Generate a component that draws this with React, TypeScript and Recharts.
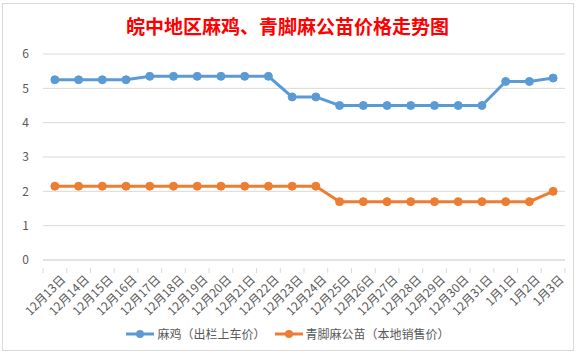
import React from "react";
import {
  LineChart,
  Line,
  XAxis,
  YAxis,
  CartesianGrid,
  Legend,
} from "recharts";

const dates = [
  "12月13日", "12月14日", "12月15日", "12月16日", "12月17日", "12月18日",
  "12月19日", "12月20日", "12月21日", "12月22日", "12月23日", "12月24日",
  "12月25日", "12月26日", "12月27日", "12月28日", "12月29日", "12月30日",
  "12月31日", "1月1日", "1月2日", "1月3日",
];

const chickenPrice = [
  5.25, 5.25, 5.25, 5.25, 5.35, 5.35, 5.35, 5.35, 5.35, 5.35, 4.75, 4.75,
  4.5, 4.5, 4.5, 4.5, 4.5, 4.5, 4.5, 5.2, 5.2, 5.3,
];

const chickPrice = [
  2.15, 2.15, 2.15, 2.15, 2.15, 2.15, 2.15, 2.15, 2.15, 2.15, 2.15, 2.15,
  1.7, 1.7, 1.7, 1.7, 1.7, 1.7, 1.7, 1.7, 1.7, 2.0,
];

const yTicks = [0, 1, 2, 3, 4, 5, 6];

const SERIES = [
  { key: "chicken", name: "麻鸡（出栏上车价）", color: "#5b9bd5" },
  { key: "chick", name: "青脚麻公苗（本地销售价）", color: "#ed7d31" },
];

const data = dates.map((d, i) => ({
  date: d,
  chicken: chickenPrice[i],
  chick: chickPrice[i],
}));

const FONT = '"Noto Sans CJK SC", "Noto Sans", sans-serif';
const W = 583;
const H = 357;
const LEFT = 43;
const RIGHT = 18;
const STEP = (W - LEFT - RIGHT) / dates.length;

const DateTick = (props: any) => {
  const { x, y, payload, index } = props;
  const last = index === dates.length - 1;
  return (
    <g transform={`translate(${x},${y})`}>
      <line x1={-STEP / 2} x2={-STEP / 2} y1={0} y2={5} stroke="#d9d9d9" />
      {last && (
        <line x1={STEP / 2} x2={STEP / 2} y1={0} y2={5} stroke="#d9d9d9" />
      )}
      <text
        x={5}
        y={6}
        textAnchor="end"
        transform="rotate(-45 5 6)"
        dy={9}
        fontSize={12}
        fill="#595959"
        fontFamily={FONT}
      >
        {payload.value}
      </text>
    </g>
  );
};

const LegendBox = () => (
  <div
    style={{
      display: "flex",
      justifyContent: "center",
      gap: 8,
      fontFamily: FONT,
      fontSize: 12,
      color: "#595959",
    }}
  >
    {SERIES.map((s) => (
      <div key={s.key} style={{ display: "flex", alignItems: "center" }}>
        <svg width={30} height={10} style={{ marginRight: 2 }}>
          <line x1={1} x2={29} y1={5} y2={5} stroke={s.color} strokeWidth={3} />
          <circle cx={15} cy={5} r={4} fill={s.color} />
        </svg>
        <span>{s.name}</span>
      </div>
    ))}
  </div>
);

export default function App() {
  return (
    <div
      style={{
        position: "absolute",
        left: 0,
        top: 0,
        width: W,
        height: H,
        background: "#fff",
      }}
    >
      <div
        style={{
          position: "absolute",
          left: 2,
          top: 3,
          width: 570,
          height: 346,
          border: "1px solid #d9d9d9",
        }}
      />
      <div
        style={{
          position: "absolute",
          left: 0,
          top: 13,
          width: 575,
          textAlign: "center",
          color: "#ff0000",
          fontFamily: FONT,
          fontSize: 19,
          fontWeight: "bold",
          lineHeight: "26px",
        }}
      >
        皖中地区麻鸡、青脚麻公苗价格走势图
      </div>
      <LineChart
        width={W}
        height={H}
        data={data}
        margin={{ top: 54, right: RIGHT, left: 0, bottom: 0 }}
      >
        <CartesianGrid vertical={false} stroke="#d9d9d9" />
        <XAxis
          dataKey="date"
          interval={0}
          height={97}
          padding={{ left: STEP / 2, right: STEP / 2 }}
          tickLine={false}
          axisLine={{ stroke: "#d9d9d9" }}
          tick={<DateTick />}
        />
        <YAxis
          width={LEFT}
          domain={[0, 6]}
          ticks={yTicks}
          axisLine={false}
          tickLine={false}
          tick={{ fontSize: 12, fill: "#595959", fontFamily: FONT }}
          tickMargin={8}
        />
        <Legend
          layout="horizontal"
          verticalAlign="middle"
          align="center"
          content={<LegendBox />}
          wrapperStyle={{ position: "absolute", top: 325, left: 0, width: 575 }}
        />
        {SERIES.map((s) => (
          <Line
            key={s.key}
            type="linear"
            dataKey={s.key}
            name={s.name}
            stroke={s.color}
            strokeWidth={3}
            dot={{ r: 4, fill: s.color, stroke: s.color, strokeWidth: 1 }}
            isAnimationActive={false}
          />
        ))}
      </LineChart>
    </div>
  );
}
